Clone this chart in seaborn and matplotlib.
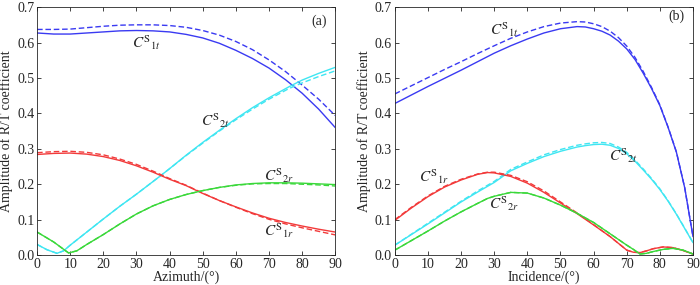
import numpy as np
import pandas as pd
import matplotlib
matplotlib.use("Agg")
import matplotlib.pyplot as plt
import seaborn as sns

# ---- panel (a): amplitude vs azimuth ----
az = [0, 5, 10, 15, 20, 25, 30, 35, 40, 45, 50, 55, 60, 65, 70, 75, 80, 85, 90]
a_c1t = [0.627, 0.624, 0.624, 0.627, 0.630, 0.633, 0.634, 0.633, 0.630, 0.623, 0.613, 0.598, 0.578, 0.555, 0.528, 0.495, 0.457, 0.412, 0.360]
a_c1t_d = [0.637, 0.637, 0.638, 0.642, 0.646, 0.649, 0.650, 0.650, 0.648, 0.643, 0.634, 0.621, 0.603, 0.580, 0.551, 0.518, 0.480, 0.440, 0.394]
a_c1r = [0.284, 0.287, 0.288, 0.285, 0.278, 0.267, 0.252, 0.234, 0.214, 0.196, 0.174, 0.154, 0.136, 0.119, 0.104, 0.092, 0.082, 0.073, 0.065]
a_c1r_d = [0.289, 0.292, 0.293, 0.290, 0.283, 0.271, 0.256, 0.237, 0.216, 0.197, 0.175, 0.154, 0.135, 0.117, 0.101, 0.088, 0.077, 0.067, 0.057]

az_t = [0, 3, 6, 8, 10, 15, 20, 25, 30, 37, 40, 45, 50, 55, 60, 65, 70, 76, 80, 85, 90]
a_c2t = [0.030, 0.015, 0.005, 0.012, 0.028, 0.065, 0.102, 0.138, 0.172, 0.222, 0.244, 0.282, 0.318, 0.352, 0.385, 0.416, 0.444, 0.475, 0.494, 0.513, 0.530]
a_c2t_d = [0.030, 0.015, 0.005, 0.012, 0.028, 0.065, 0.102, 0.138, 0.172, 0.222, 0.244, 0.281, 0.316, 0.350, 0.382, 0.412, 0.440, 0.470, 0.486, 0.504, 0.520]

az_r = [0, 5, 9.5, 12, 15, 20, 25, 30, 35, 40, 45, 50, 55, 60, 65, 70, 75, 80, 85, 90]
a_c2r = [0.065, 0.037, 0.006, 0.012, 0.030, 0.058, 0.088, 0.116, 0.139, 0.157, 0.171, 0.182, 0.191, 0.198, 0.202, 0.204, 0.204, 0.203, 0.201, 0.199]
a_c2r_d = [0.065, 0.037, 0.006, 0.012, 0.030, 0.058, 0.088, 0.116, 0.139, 0.157, 0.171, 0.182, 0.191, 0.197, 0.201, 0.202, 0.202, 0.200, 0.198, 0.195]

# ---- panel (b): amplitude vs incidence ----
inc = [0, 5, 10, 15, 20, 25, 30, 35, 40, 45, 50, 55, 57.5, 60, 62.5, 65, 67.5, 70, 72.5, 75, 77.5, 80, 82.5, 85, 87.5, 90]
b_c1t = [0.428, 0.452, 0.476, 0.499, 0.522, 0.546, 0.570, 0.591, 0.610, 0.627, 0.639, 0.645, 0.644, 0.639, 0.632, 0.621, 0.604, 0.582, 0.552, 0.513, 0.470, 0.422, 0.360, 0.290, 0.190, 0.052]
b_c1t_d = [0.455, 0.478, 0.501, 0.524, 0.546, 0.569, 0.591, 0.612, 0.630, 0.645, 0.655, 0.659, 0.658, 0.653, 0.645, 0.632, 0.614, 0.590, 0.558, 0.518, 0.473, 0.424, 0.361, 0.291, 0.190, 0.052]
b_c2t = [0.028, 0.058, 0.088, 0.119, 0.150, 0.178, 0.205, 0.238, 0.259, 0.278, 0.293, 0.305, 0.309, 0.312, 0.313, 0.310, 0.301, 0.286, 0.265, 0.240, 0.214, 0.185, 0.152, 0.115, 0.075, 0.035]
b_c2t_d = [0.028, 0.059, 0.090, 0.121, 0.152, 0.181, 0.208, 0.242, 0.263, 0.283, 0.298, 0.310, 0.314, 0.317, 0.318, 0.315, 0.305, 0.290, 0.268, 0.243, 0.216, 0.187, 0.153, 0.116, 0.076, 0.035]

inc_r = [0, 5, 10, 15, 20, 25, 28, 30, 35, 40, 45, 50, 55, 60, 65, 70, 72, 74, 76, 78, 81, 84, 87, 90]
b_c1r = [0.098, 0.133, 0.165, 0.192, 0.212, 0.228, 0.233, 0.232, 0.222, 0.203, 0.177, 0.147, 0.117, 0.085, 0.052, 0.014, 0.008, 0.007, 0.012, 0.018, 0.023, 0.021, 0.013, 0.003]
b_c1r_d = [0.100, 0.135, 0.167, 0.194, 0.214, 0.229, 0.234, 0.234, 0.225, 0.207, 0.181, 0.150, 0.119, 0.086, 0.052, 0.014, 0.008, 0.007, 0.012, 0.018, 0.023, 0.021, 0.013, 0.003]
b_c2r = [0.014, 0.041, 0.068, 0.096, 0.122, 0.146, 0.160, 0.166, 0.177, 0.175, 0.161, 0.141, 0.118, 0.092, 0.060, 0.028, 0.016, 0.003, 0.005, 0.010, 0.016, 0.019, 0.014, 0.003]
b_c2r_d = b_c2r

BLUE, CYAN, RED, GREEN = "#3a3af2", "#3fe6f2", "#f23a3a", "#3ad83a"

sns.set_theme(style="ticks")
plt.rcParams["font.family"] = "serif"
plt.rcParams["font.serif"] = ["Liberation Serif", "Times New Roman", "DejaVu Serif"]
plt.rcParams["mathtext.fontset"] = "stix"
plt.rcParams["xtick.direction"] = "in"
plt.rcParams["ytick.direction"] = "in"

fig, axes = plt.subplots(1, 2, figsize=(7, 2.85), dpi=100)
fig.subplots_adjust(left=0.053, right=0.99, bottom=0.105, top=0.975, wspace=0.2)

def draw(ax, x, y, color, dashed=False):
    sns.lineplot(x=x, y=y, ax=ax, color=color, lw=1.0,
                 linestyle=(0, (4, 2)) if dashed else "-")

lab = dict(ha="center", va="center", fontsize=11)

ax = axes[0]
draw(ax, az, a_c1t_d, BLUE, True)
draw(ax, az, a_c1t, BLUE)
draw(ax, az_t, a_c2t_d, CYAN, True)
draw(ax, az_t, a_c2t, CYAN)
draw(ax, az, a_c1r_d, RED, True)
draw(ax, az, a_c1r, RED)
draw(ax, az_r, a_c2r_d, GREEN, True)
draw(ax, az_r, a_c2r, GREEN)
ax.set_xlabel("Azimuth/(°)")
ax.text(33, 0.60, r"$C^{\mathrm{S}}{}_{1t}$", **lab)
ax.text(54, 0.38, r"$C^{\mathrm{S}}{}_{2t}$", **lab)
ax.text(73, 0.225, r"$C^{\mathrm{S}}{}_{2r}$", **lab)
ax.text(73, 0.068, r"$C^{\mathrm{S}}{}_{1r}$", **lab)
ax.text(85, 0.66, "(a)", ha="center", va="center", fontsize=10)

ax = axes[1]
draw(ax, inc, b_c1t_d, BLUE, True)
draw(ax, inc, b_c1t, BLUE)
draw(ax, inc, b_c2t_d, CYAN, True)
draw(ax, inc, b_c2t, CYAN)
draw(ax, inc_r, b_c1r_d, RED, True)
draw(ax, inc_r, b_c1r, RED)
draw(ax, inc_r, b_c2r_d, GREEN, True)
draw(ax, inc_r, b_c2r, GREEN)
ax.set_xlabel("Incidence/(°)")
ax.text(33, 0.635, r"$C^{\mathrm{S}}{}_{1t}$", **lab)
ax.text(69, 0.28, r"$C^{\mathrm{S}}{}_{2t}$", **lab)
ax.text(12, 0.222, r"$C^{\mathrm{S}}{}_{1r}$", **lab)
ax.text(33, 0.145, r"$C^{\mathrm{S}}{}_{2r}$", **lab)
ax.text(85, 0.675, "(b)", ha="center", va="center", fontsize=10)

for ax in axes:
    ax.set_xlim(0, 90)
    ax.set_ylim(0, 0.7)
    ax.set_xticks(range(0, 91, 10))
    ax.set_yticks(np.arange(0, 0.71, 0.1))
    ax.yaxis.set_major_formatter(matplotlib.ticker.FormatStrFormatter("%.1f"))
    ax.set_ylabel("Amplitude of R/T coefficient", fontsize=10, labelpad=3)
    ax.xaxis.label.set_size(10)
    ax.xaxis.labelpad = 0
    ax.tick_params(labelsize=10, length=3, width=0.6, pad=2, top=True, right=True)
    for s in ax.spines.values():
        s.set_linewidth(0.6)
        s.set_visible(True)

fig.savefig("out.png", dpi=100)
